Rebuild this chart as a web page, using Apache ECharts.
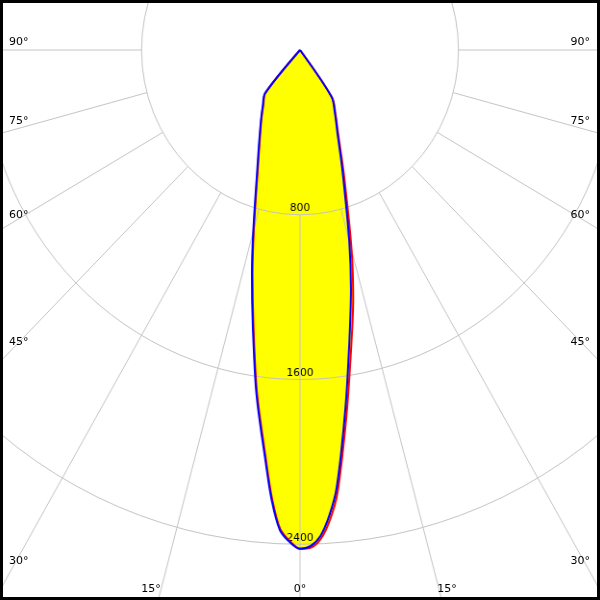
<!DOCTYPE html>
<html>
<head>
<meta charset="utf-8">
<script src="https://cdn.jsdelivr.net/npm/echarts@6/dist/echarts.min.js"></script>
<style>
html,body{margin:0;padding:0;background:#fff;overflow:hidden}
#wrap{position:relative;width:600px;height:600px;overflow:hidden;background:#fff}
#chart{position:absolute;left:-20px;top:0;width:640px;height:600px;transform:scaleX(0.962);transform-origin:320px 50px}
#overlay{position:absolute;left:0;top:0;width:600px;height:600px}
</style>
</head>
<body>
<div id="wrap"><div id="chart"></div><div id="overlay"></div></div>
<script>
// Gamma angles (degrees from nadir) and luminous intensity (cd) per C-plane
const gammaAngles = [0, 1.25, 2.5, 3.75, 5, 7.5, 10, 12.5, 15, 20, 25, 30, 35, 40, 45];
const c0Values   = [2422, 2418, 2378, 2290, 2162, 1794, 1482, 1240, 1006, 650, 458, 358, 282, 0, 0]; // red, right half
const c180Values = [2422, 2385, 2325, 2178, 1988, 1670, 1355, 1108, 900, 625, 480, 390, 322, 272, 0]; // red, left half
const c90Values  = [2422, 2410, 2362, 2265, 2130, 1755, 1435, 1188, 960, 628, 448, 352, 278, 0, 0]; // blue, right half
const c270Values = [2422, 2390, 2333, 2190, 2002, 1685, 1370, 1122, 912, 634, 487, 394, 327, 275, 0]; // blue, left half
const radiusLabels = [800, 1600, 2400];
const gridAngles = [0, 15, 30, 45, 60, 75, 90];
const leftAngleLabels = ['90°', '75°', '60°', '45°', '30°'];
const bottomAngleLabels = ['15°', '0°', '15°'];
const rightAngleLabels = ['90°', '75°', '60°', '45°', '30°'];

// left half: +gamma, right half: -gamma (0 = nadir, pointing down)
function planeData(rightVals, leftVals) {
  const out = [];
  for (let i = gammaAngles.length - 1; i > 0; i--) out.push([rightVals[i], -gammaAngles[i]]);
  out.push([(rightVals[0] + leftVals[0]) / 2, 0]);
  for (let i = 1; i < gammaAngles.length; i++) out.push([leftVals[i], gammaAngles[i]]);
  return out;
}

const RED = '#ff0000', BLUE = '#0000ff', YELLOW = '#ffff00', GRID = '#c4c4c4';
const SMOOTH = 0.3;
function areaSeries(data) {
  return { type: 'line', coordinateSystem: 'polar', data, symbol: 'none', z: 1, smooth: SMOOTH,
    lineStyle: { width: 0, opacity: 0 }, areaStyle: { color: YELLOW, opacity: 1 }, silent: true };
}
function lineSeries(data, color) {
  return { type: 'line', coordinateSystem: 'polar', data, symbol: 'none', z: 3, smooth: SMOOTH,
    lineStyle: { color, width: 2 }, silent: true };
}
const radialSeries = [];
gridAngles.forEach(a => {
  const angs = a === 0 ? [0] : [a, -a];
  angs.forEach(g => radialSeries.push({ type: 'line', coordinateSystem: 'polar', symbol: 'none', z: 2,
    data: [[800, g], [3200, g]], lineStyle: { color: GRID, width: 1 }, silent: true }));
});

const chart = echarts.init(document.getElementById('chart'), null, { renderer: 'canvas' });
chart.setOption({
  animation: false,
  backgroundColor: '#ffffff',
  polar: { center: [320, 50], radius: 659 },
  angleAxis: {
    type: 'value', min: 0, max: 360, interval: 15, startAngle: 270, clockwise: true, z: 2,
    axisLine: { show: false }, axisTick: { show: false }, axisLabel: { show: false },
    splitLine: { show: false }
  },
  radiusAxis: {
    type: 'value', min: 0, max: 3200, interval: 800, z: 2,
    axisLine: { show: false }, axisTick: { show: false },
    splitLine: { show: true, lineStyle: { color: GRID, width: 1 } },
    axisLabel: {
      margin: 0, align: 'center', verticalAlign: 'bottom', color: '#000',
      fontSize: 11, fontFamily: 'DejaVu Sans', padding: [0, 0, 1, 0],
      formatter: v => radiusLabels.includes(v) ? String(v) : ''
    }
  },
  series: [
    areaSeries(planeData(c0Values, c180Values)),
    areaSeries(planeData(c90Values, c270Values)),
    ...radialSeries,
    lineSeries(planeData(c0Values, c180Values), RED),
    lineSeries(planeData(c90Values, c270Values), BLUE)
  ]
});

// overlay: angle labels at the frame edges and the frame itself
const font = '11px "DejaVu Sans"';
const graphics = [];
const leftY = [42, 121, 215, 342, 561];
leftAngleLabels.forEach((t, i) => graphics.push({ type: 'text', z: 50,
  style: { text: t, x: 9, y: leftY[i], align: 'left', verticalAlign: 'middle', font, fill: '#000' } }));
rightAngleLabels.forEach((t, i) => graphics.push({ type: 'text', z: 50,
  style: { text: t, x: 590, y: leftY[i], align: 'right', verticalAlign: 'middle', font, fill: '#000' } }));
const bottomX = [151, 300, 447];
bottomAngleLabels.forEach((t, i) => graphics.push({ type: 'text', z: 50,
  style: { text: t, x: bottomX[i], y: 589, align: 'center', verticalAlign: 'middle', font, fill: '#000' } }));
graphics.push({ type: 'rect', z: 100, shape: { x: 1.5, y: 1.5, width: 597, height: 597 },
  style: { fill: 'none', stroke: '#000', lineWidth: 3 } });
const overlay = echarts.init(document.getElementById('overlay'), null, { renderer: 'canvas' });
overlay.setOption({ animation: false, backgroundColor: 'transparent', graphic: graphics });
</script>
</body>
</html>
